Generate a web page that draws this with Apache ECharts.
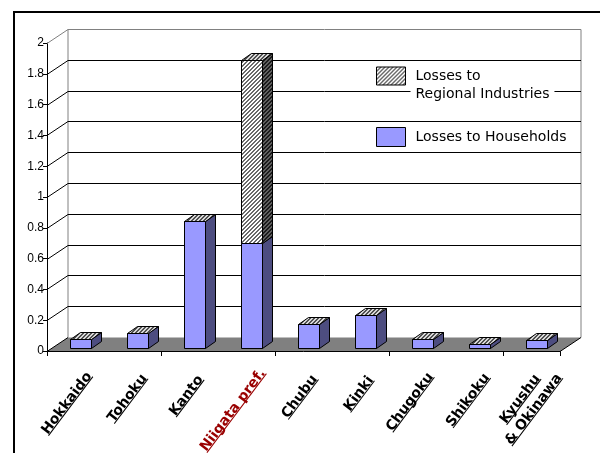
<!DOCTYPE html>
<html><head><meta charset="utf-8">
<script src="https://cdn.jsdelivr.net/npm/echarts@6/dist/echarts.min.js"></script>
<style>html,body{margin:0;padding:0;background:#fff}#c{width:600px;height:453px}</style>
</head><body><div id="c"></div>
<script>
// ---- data ----
const categories = ['Hokkaido','Tohoku','Kanto','Niigata pref.','Chubu','Kinki','Chugoku','Shikoku','Kyushu\n& Okinawa'];
const households = [0.055, 0.095, 0.82, 0.68, 0.15, 0.21, 0.055, 0.025, 0.05];
const regional   = [0, 0, 0, 1.19, 0, 0, 0, 0, 0];
const yTicks = [0, 0.2, 0.4, 0.6, 0.8, 1, 1.2, 1.4, 1.6, 1.8, 2];
const seriesNames = ['Losses to Regional Industries', 'Losses to Households'];
const legendLabels = ['Losses to\nRegional Industries', 'Losses to Households'];
const highlighted = 'Niigata pref.';

// ---- style / geometry ----
const DX = 21, DY = -14;           // depth of the 3D box
const BDX = 10, BDY = -7;          // depth of each bar
const LABEL_FONT = 'bold 14px "DejaVu Sans"';
const LABEL_ANGLE = 53 * Math.PI / 180;
const LH = 17;

function hatch(bg, fg) {
  const c = document.createElement('canvas');
  c.width = 4; c.height = 4;
  const g = c.getContext('2d');
  g.fillStyle = bg; g.fillRect(0, 0, 4, 4);
  g.fillStyle = fg;
  for (let k = 0; k < 4; k++) { g.fillRect(k, 3 - k, 1, 1); g.fillRect(k, (4 - k) % 4, 1, 1); }
  return { image: c, repeat: 'repeat' };
}
const hatchFront = hatch('#ffffff', '#6a6a6a');
const hatchSide = hatch('#606060', '#1a1a1a');
const hatchTop = hatch('#d8d8d8', '#505050');
const blueFront = '#9999ff', blueSide = '#4d4d80';

const mctx = document.createElement('canvas').getContext('2d');
mctx.font = LABEL_FONT;
const measure = s => mctx.measureText(s).width;
const r5 = v => Math.round(v) + 0.5;

function renderWall(params, api) {
  const v = api.value(1);
  const cs = params.coordSys;
  const x0 = cs.x, x1 = cs.x + cs.width;
  const y = r5(api.coord([0, v])[1]);
  const yb = y + DY;
  const yTop = r5(api.coord([0, yTicks[yTicks.length - 1]])[1]) + DY;
  const isTop = v === yTicks[yTicks.length - 1];
  const ch = [];
  if (v === 0) {
    ch.push({ type: 'polygon', shape: { points: [[x0, y], [x1, y], [x1 + DX, yb], [x0 + DX, yb]] }, style: { fill: '#808080', stroke: null } });
    ch.push({ type: 'line', shape: { x1: x0 + DX, y1: yb, x2: x0 + DX, y2: yTop }, style: { stroke: '#808080', lineWidth: 1 } });
    ch.push({ type: 'line', shape: { x1: x1 + DX, y1: yb, x2: x1 + DX, y2: yTop }, style: { stroke: '#808080', lineWidth: 1 } });
    ch.push({ type: 'line', shape: { x1: x0, y1: y, x2: x1, y2: y }, style: { stroke: '#000', lineWidth: 1 } });
    ch.push({ type: 'line', shape: { x1: x1, y1: y, x2: x1 + DX, y2: yb }, style: { stroke: '#000', lineWidth: 1 } });
    ch.push({ type: 'line', shape: { x1: x0, y1: y, x2: x0 + DX, y2: yb }, style: { stroke: '#000', lineWidth: 1 } });
  } else {
    const col = isTop ? '#808080' : '#000';
    ch.push({ type: 'line', shape: { x1: x0, y1: y, x2: x0 + DX, y2: yb }, style: { stroke: col, lineWidth: 1 } });
    ch.push({ type: 'line', shape: { x1: x0 + DX, y1: yb, x2: x1 + DX, y2: yb }, style: { stroke: col, lineWidth: 1 } });
  }
  return { type: 'group', children: ch };
}

function makeBar(kind) {
  return function (params, api) {
    const i = api.value(0), v0 = api.value(1), v1 = api.value(2);
    const a = api.coord([i, v0]), b = api.coord([i, v1]);
    const band = api.size([1, 0])[0];
    const w = band * 0.37;
    const cx = a[0] + DX * 0.25;
    const x1 = r5(cx - w / 2), x2 = r5(cx + w / 2);
    const yB = r5(a[1] + DY * 0.25), yT = r5(b[1] + DY * 0.25);
    const front = kind === 'reg' ? hatchFront : blueFront;
    const side = kind === 'reg' ? hatchSide : blueSide;
    const st = { stroke: '#000', lineWidth: 1 };
    const ch = [];
    if (yB - yT > 0.5) {
      ch.push({ type: 'polygon', shape: { points: [[x1, yB], [x2, yB], [x2, yT], [x1, yT]] }, style: Object.assign({ fill: front }, st) });
      ch.push({ type: 'polygon', shape: { points: [[x2, yB], [x2, yT], [x2 + BDX, yT + BDY], [x2 + BDX, yB + BDY]] }, style: Object.assign({ fill: side }, st) });
    }
    if (kind === 'reg') {
      ch.push({ type: 'polygon', shape: { points: [[x1, yT], [x2, yT], [x2 + BDX, yT + BDY], [x1 + BDX, yT + BDY]] }, style: Object.assign({ fill: hatchTop }, st) });
    }
    return { type: 'group', children: ch };
  };
}

function renderLabel(params, api) {
  const i = api.value(0);
  const p = api.coord([i, 0]);
  const lines = categories[i].split('\n');
  const ws = lines.map(measure);
  const W = Math.max.apply(null, ws);
  const n = lines.length;
  const color = categories[i] === highlighted ? '#990000' : '#000';
  const ex = p[0] + 12 + 0.1 * W + (n - 1) * 13;
  const ey = p[1] + 36 - 0.12 * W + (n - 1) * 3;
  const ch = [];
  lines.forEach((s, k) => {
    const yb = -(n - 1 - k) * LH;
    const cxl = -W / 2;
    ch.push({ type: 'text', style: { text: s, x: cxl, y: yb, align: 'center', verticalAlign: 'bottom', font: LABEL_FONT, fill: color } });
    ch.push({ type: 'line', shape: { x1: cxl - ws[k] / 2, y1: yb - 2.5, x2: cxl + ws[k] / 2, y2: yb - 2.5 }, style: { stroke: color, lineWidth: 1 } });
  });
  return { type: 'group', x: ex, y: ey, rotation: LABEL_ANGLE, children: ch };
}

const legendText = s => s.split('\n').map(t => '{t|' + t + '}').join('\n');
const legendStyle = {
  fontFamily: 'DejaVu Sans', fontSize: 14, color: '#000', lineHeight: 18,
  rich: { t: { fontFamily: 'DejaVu Sans', fontSize: 14, color: '#000', lineHeight: 18, backgroundColor: '#fff', padding: [0, 5] } }
};

const chart = echarts.init(document.getElementById('c'), null, { renderer: 'canvas' });
chart.setOption({
  animation: false,
  backgroundColor: '#fff',
  grid: { left: 47, top: 43, width: 513, height: 308 },
  xAxis: {
    type: 'category', data: categories,
    axisLine: { show: false },
    axisTick: { show: true, length: 5, lineStyle: { color: '#000', width: 1 } },
    axisLabel: { show: false },
    splitLine: { show: false }
  },
  yAxis: {
    type: 'value', min: 0, max: 2, interval: 0.2,
    axisLine: { show: true, lineStyle: { color: '#000', width: 1 } },
    axisTick: { show: true, length: 4, lineStyle: { color: '#000' } },
    axisLabel: { margin: 3, fontFamily: 'Liberation Sans', fontSize: 12, color: '#000' },
    splitLine: { show: false }
  },
  legend: [
    {
      left: 376, top: 49, orient: 'vertical', itemWidth: 29, itemHeight: 18, selectedMode: false, icon: 'rect', padding: 0,
      data: [{ name: seriesNames[0], itemStyle: { color: hatchFront, borderColor: '#000', borderWidth: 1 } }],
      formatter: () => legendText(legendLabels[0]),
      textStyle: Object.assign({ padding: [18, 0, 0, 0] }, legendStyle)
    },
    {
      left: 376, top: 127, orient: 'vertical', itemWidth: 29, itemHeight: 19, selectedMode: false, icon: 'rect', padding: 0,
      data: [{ name: seriesNames[1], itemStyle: { color: blueFront, borderColor: '#000', borderWidth: 1 } }],
      formatter: () => legendText(legendLabels[1]),
      textStyle: legendStyle
    }
  ],
  graphic: [
    { type: 'line', shape: { x1: 14, y1: 12, x2: 14, y2: 453 }, style: { stroke: '#000', lineWidth: 2 } },
    { type: 'line', shape: { x1: 13, y1: 12, x2: 600, y2: 12 }, style: { stroke: '#000', lineWidth: 2 } }
  ],
  series: [
    { type: 'custom', name: 'walls', silent: true, z: 1, renderItem: renderWall,
      data: yTicks.map(v => [0, v]), encode: { x: 0, y: 1 } },
    { type: 'custom', name: seriesNames[1], z: 3, itemStyle: { color: blueFront }, renderItem: makeBar('hh'),
      data: categories.map((c, i) => [i, 0, households[i]]), encode: { x: 0, y: [1, 2] } },
    { type: 'custom', name: seriesNames[0], z: 3, itemStyle: { color: hatchFront }, renderItem: makeBar('reg'),
      data: categories.map((c, i) => [i, households[i], households[i] + regional[i]]), encode: { x: 0, y: [1, 2] } },
    { type: 'custom', name: 'labels', silent: true, z: 4, renderItem: renderLabel,
      data: categories.map((c, i) => [i, 0]), encode: { x: 0, y: 1 } }
  ]
});
</script>
</body></html>
